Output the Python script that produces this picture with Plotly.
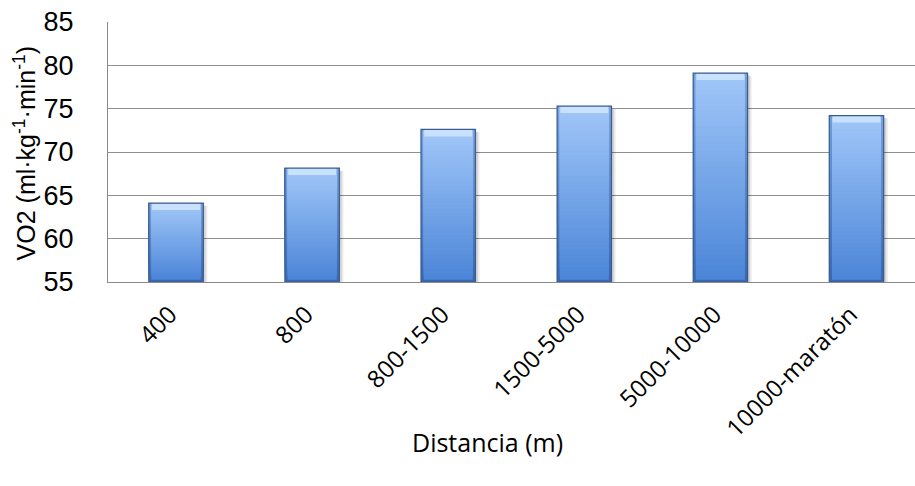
import plotly.graph_objects as go

# VO2max by race distance
distances = ["400", "800", "800-1500", "1500-5000", "5000-10000", "10000-maratón"]
vo2 = [64.1, 68.15, 72.6, 75.3, 79.1, 74.2]

y_ticks = [55, 60, 65, 70, 75, 80, 85]
y_min, y_max = 55, 85

BAR_W = 0.4
N_SLICES = 40


def mix(c1, c2, t):
    return "rgb({},{},{})".format(*[round(a + (b - a) * t) for a, b in zip(c1, c2)])


def gradient_bars(fig, width, bottom_rgb, top_rgb, inset_bottom=0.0, inset_top=0.0):
    """Vertical gradient: each slice runs from its start up to the bar top,
    drawn bottom-first so later (lighter) slices cover earlier ones without seams."""
    for k in range(N_SLICES):
        t = k / (N_SLICES - 1)
        lo = [y_min + inset_bottom + (v - y_min - inset_bottom - inset_top) * k / N_SLICES for v in vo2]
        hi = [v - inset_top for v in vo2]
        fig.add_trace(go.Bar(
            x=distances,
            y=[h - l for h, l in zip(hi, lo)],
            base=lo,
            width=width,
            marker=dict(color=mix(bottom_rgb, top_rgb, t), line=dict(width=0)),
            hoverinfo="skip",
            showlegend=False,
        ))


fig = go.Figure()

# soft drop shadow, slightly right of each bar
for off, alpha in [(0.03, 0.08), (0.018, 0.10)]:
    fig.add_trace(go.Bar(
        x=distances,
        y=[v - y_min + 0.1 for v in vo2],
        base=[y_min - 0.4 for _ in vo2],
        width=BAR_W,
        offset=-BAR_W / 2 + off,
        marker=dict(color=f"rgba(0,0,0,{alpha})", line=dict(width=0)),
        hoverinfo="skip",
        showlegend=False,
    ))

# darker outer rim
gradient_bars(fig, BAR_W, (58, 104, 176), (120, 162, 222))
# main face
gradient_bars(fig, BAR_W * 0.9, (76, 134, 216), (160, 198, 248), inset_bottom=0.25, inset_top=0.15)

# top highlight bevel
fig.add_trace(go.Bar(
    x=distances,
    y=[0.8 for _ in vo2],
    base=[v - 0.8 for v in vo2],
    width=BAR_W * 0.88,
    marker=dict(color="rgb(200,226,253)", line=dict(width=0)),
    hoverinfo="skip",
    showlegend=False,
))

# dark bar outline
fig.add_trace(go.Bar(
    x=distances,
    y=[v - y_min for v in vo2],
    base=[y_min for _ in vo2],
    width=BAR_W,
    marker=dict(color="rgba(0,0,0,0)", line=dict(color="#3A5C8E", width=1.2)),
    hovertemplate="%{x}: %{customdata}<extra></extra>",
    customdata=vo2,
    showlegend=False,
))

fig.update_layout(
    width=915,
    height=486,
    margin=dict(l=108, r=0, t=22, b=204),
    paper_bgcolor="white",
    plot_bgcolor="white",
    barmode="overlay",
    xaxis=dict(
        type="category",
        range=[-0.5, 5.43],
        tickangle=-45,
        tickfont=dict(family="Open Sans", size=24, color="black"),
        showgrid=False,
        showline=True,
        linecolor="#8A8A8A",
        linewidth=1,
        ticks="",
        ticklabelstandoff=8,
        ticklabelshift=-6,
    ),
    yaxis=dict(
        range=[y_min, y_max],
        tickvals=y_ticks,
        ticktext=[str(v) for v in y_ticks],
        tickfont=dict(family="Liberation Sans, Arial", size=27, color="black"),
        showgrid=True,
        gridcolor="#8F8F8F",
        gridwidth=1,
        showline=True,
        linecolor="#8A8A8A",
        linewidth=1,
        ticks="",
        ticklabelstandoff=28,
        zeroline=False,
    ),
    annotations=[
        dict(
            text="VO2 (ml·kg<sup>-1</sup>·min<sup>-1</sup>)",
            xref="paper", yref="paper",
            x=-0.1034, y=0.493,
            textangle=-90,
            showarrow=False,
            font=dict(family="Liberation Sans, Arial", size=25, color="black"),
            xanchor="center", yanchor="middle",
        ),
        dict(
            text="Distancia (m)",
            xref="paper", yref="paper",
            x=0.4706, y=-0.6135,
            showarrow=False,
            font=dict(family="Open Sans", size=25, color="black"),
            xanchor="center", yanchor="middle",
        ),
    ],
)

fig.write_html("out.html")
